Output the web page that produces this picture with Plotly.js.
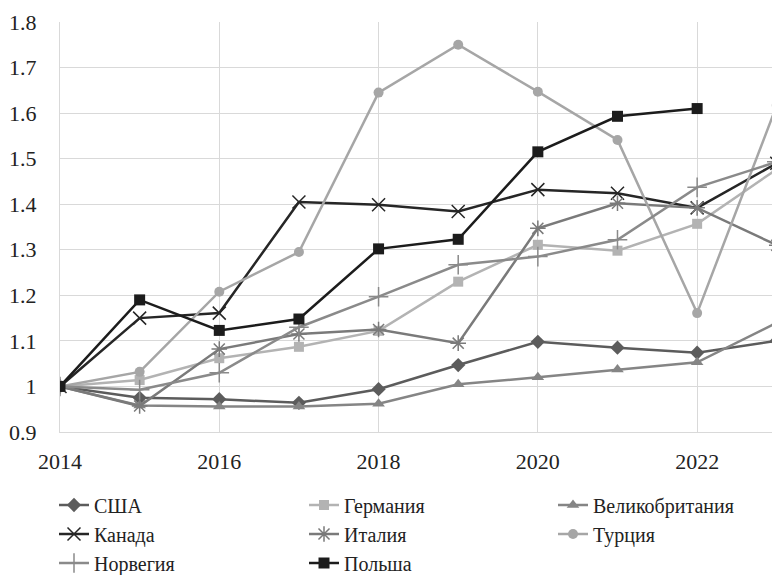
<!DOCTYPE html>
<html>
<head>
<meta charset="utf-8">
<script src="https://cdn.plot.ly/plotly-3.0.1.min.js"></script>
<style>
html,body{margin:0;padding:0;background:#fff;}
#chart{width:772px;height:575px;}
</style>
</head>
<body>
<div id="chart"></div>
<script>
var years = [2014, 2015, 2016, 2017, 2018, 2019, 2020, 2021, 2022, 2023];
var usa     = [1, 0.975, 0.972, 0.964, 0.994, 1.047, 1.098, 1.085, 1.074, 1.10];
var germany = [1, 1.014, 1.062, 1.087, 1.122, 1.230, 1.311, 1.298, 1.357, 1.477];
var uk      = [1, 0.958, 0.956, 0.956, 0.962, 1.005, 1.020, 1.037, 1.053, 1.140];
var canada  = [1, 1.150, 1.161, 1.405, 1.399, 1.384, 1.432, 1.424, 1.392, 1.490];
var italy   = [1, 0.957, 1.082, 1.115, 1.125, 1.095, 1.347, 1.402, 1.392, 1.310];
var turkey  = [1, 1.032, 1.208, 1.295, 1.645, 1.750, 1.647, 1.541, 1.161, 1.617];
var norway  = [1, 0.993, 1.030, 1.130, 1.197, 1.267, 1.285, 1.322, 1.437, 1.493];
var poland  = [1, 1.190, 1.123, 1.148, 1.302, 1.323, 1.515, 1.593, 1.610, null];
var names = ['США', 'Германия', 'Великобритания', 'Канада', 'Италия', 'Турция', 'Норвегия', 'Польша'];
var xTicks = [2014, 2016, 2018, 2020, 2022];
var yTicks = [0.9, 1.0, 1.1, 1.2, 1.3, 1.4, 1.5, 1.6, 1.7, 1.8];
var yTickText = ['0.9', '1', '1.1', '1.2', '1.3', '1.4', '1.5', '1.6', '1.7', '1.8'];

var FAM = 'Liberation Serif, DejaVu Serif, serif';

function tr(name, y, color, symbol, size, open, leg) {
  var m = {symbol: symbol, size: size, color: color};
  if (open) { m.line = {color: color, width: 1.5}; }
  return {
    x: years, y: y, name: name, type: 'scatter', mode: 'lines+markers',
    line: {color: color, width: 2.5},
    marker: m, cliponaxis: true, legend: leg
  };
}

var data = [
  tr(names[0], usa, '#5c5c5c', 'diamond', 11, false, 'legend'),
  tr(names[1], germany, '#b3b3b3', 'square', 10, false, 'legend2'),
  tr(names[2], uk, '#858585', 'triangle-up', 11, false, 'legend3'),
  tr(names[3], canada, '#262626', 'x-thin-open', 13, true, 'legend'),
  tr(names[4], italy, '#7a7a7a', 'asterisk-open', 13, true, 'legend2'),
  tr(names[5], turkey, '#a6a6a6', 'circle', 10, false, 'legend3'),
  tr(names[6], norway, '#8a8a8a', 'cross-thin-open', 14, true, 'legend'),
  tr(names[7], poland, '#1c1c1c', 'square', 11, false, 'legend2')
];

var tickFont = {family: FAM, size: 22, color: '#222'};
var legFont = {family: FAM, size: 20, color: '#222'};

function leg(xpx) {
  return {
    orientation: 'v', x: (xpx - 60) / 712, xanchor: 'left', y: -0.1305, yanchor: 'top',
    traceorder: 'normal', font: legFont, bgcolor: 'rgba(0,0,0,0)', borderwidth: 0,
    itemwidth: 30, tracegroupgap: 0
  };
}

var layout = {
  width: 772, height: 575,
  margin: {l: 60, r: 0, t: 22, b: 143, autoexpand: false},
  paper_bgcolor: '#fff', plot_bgcolor: '#fff',
  font: tickFont,
  showlegend: true,
  xaxis: {
    range: [2014, 2022.94], tickvals: xTicks, ticktext: xTicks.map(String),
    showgrid: true, gridcolor: '#d9d9d9', gridwidth: 1,
    zeroline: false, showline: true, linecolor: '#d9d9d9', linewidth: 1,
    ticks: '', ticklabelstandoff: 10, tickfont: tickFont
  },
  yaxis: {
    range: [0.9, 1.8], tickvals: yTicks, ticktext: yTickText,
    showgrid: true, gridcolor: '#d9d9d9', gridwidth: 1,
    zeroline: false, showline: true, linecolor: '#d9d9d9', linewidth: 1,
    ticks: '', ticklabelstandoff: 18, tickfont: tickFont
  },
  legend: leg(54),
  legend2: leg(304),
  legend3: leg(553)
};

function draw() {
  Plotly.newPlot('chart', data, layout, {displayModeBar: false, staticPlot: true});
}
if (document.fonts && document.fonts.load) {
  Promise.all([
    document.fonts.load('22px "Liberation Serif"', 'Великобритания 2014'),
    document.fonts.load('20px "Liberation Serif"', 'Великобритания')
  ]).then(draw, draw);
} else {
  draw();
}
</script>
</body>
</html>
